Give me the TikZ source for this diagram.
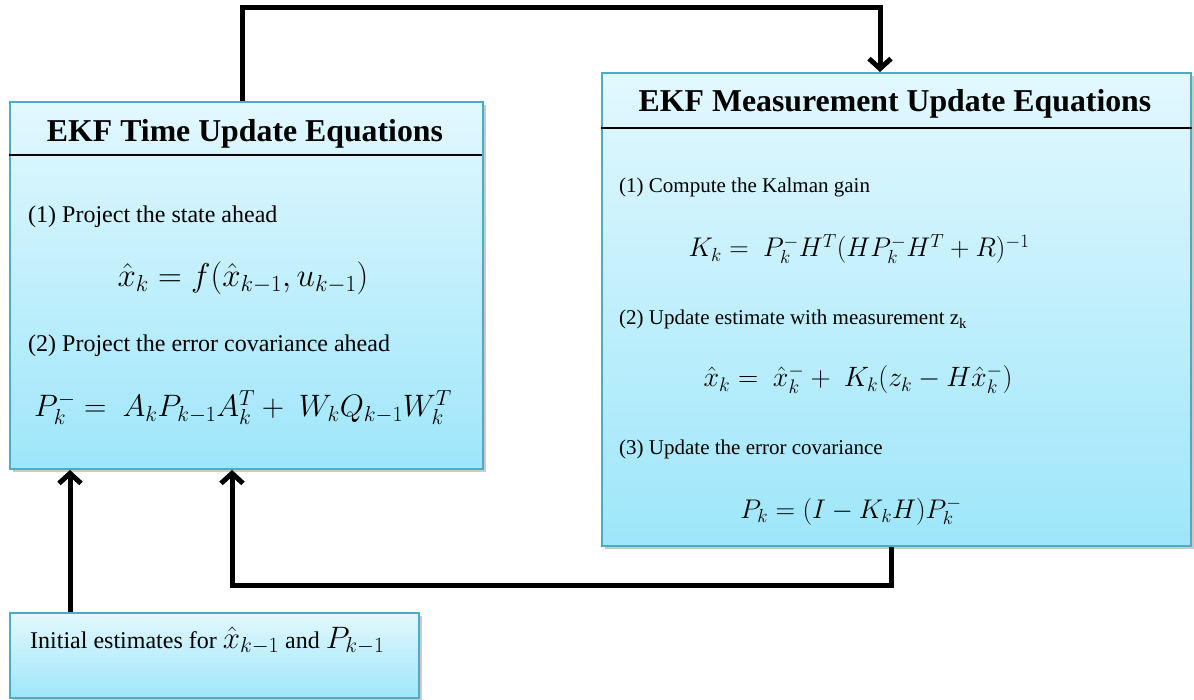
\RequirePackage{fix-cm}
\documentclass[tikz,border=0pt]{standalone}
\usepackage{fontspec}
\setmainfont{Liberation Serif}
\usetikzlibrary{arrows.meta,shadows}
\definecolor{boxtop}{HTML}{E2F8FE}
\definecolor{boxbot}{HTML}{9EE6FA}
\definecolor{boxline}{HTML}{4BACC6}
\tikzset{
  panel/.style={draw=boxline, line width=2pt, top color=boxtop, bottom color=boxbot,
    drop shadow={shadow xshift=3pt, shadow yshift=-3pt, opacity=0.35, fill=black!60},
    anchor=north west, inner sep=0pt},
  flow/.style={line width=5pt, -{Straight Barb[length=10pt,width=22pt]}},
  rule/.style={line width=2.5pt},
  ttl/.style={font=\fontsize{31.8}{36}\selectfont\bfseries, anchor=base, inner sep=0pt},
  bodyl/.style={font=\fontsize{24}{28}\selectfont, anchor=base west, inner sep=0pt},
  bodyr/.style={font=\fontsize{21}{25}\selectfont, anchor=base west, inner sep=0pt},
  eqn/.style={font=\fontsize{#1}{36}\selectfont, anchor=base, inner sep=0pt},
}
\begin{document}
\begin{tikzpicture}[x=1pt,y=1pt]
\useasboundingbox (0,0) rectangle (1194,-700);
% boxes
\node[panel, minimum width=473pt, minimum height=367pt] (tu) at (9,-101) {};
\node[panel, minimum width=589pt, minimum height=473pt] (mu) at (601,-72) {};
\node[panel, minimum width=409pt, minimum height=85pt] (init) at (9,-612) {};
% header rules
\draw[rule] ([yshift=-54pt]tu.north west) -- ([yshift=-54pt,xshift=-2pt]tu.north east);
\draw[rule] ([yshift=-56pt]mu.north west) -- ([yshift=-56pt]mu.north east);
% left box text
\node[ttl] (tut) at (245,-142) {EKF Time Update Equations};
\node[bodyl] (tu1) at (28,-223) {(1) Project the state ahead};
\node[eqn=33] (tue1) at (243,-287) {$\hat{x}_k = f(\hat{x}_{k-1}, u_{k-1})$};
\node[bodyl] (tu2) at (28,-352) {(2) Project the error covariance ahead};
\node[eqn=31] (tue2) at (243,-417) {$P_k^- =\ A_k P_{k-1} A_k^T +\ W_k Q_{k-1} W_k^T$};
% right box text
\node[ttl] (mut) at (895,-112) {EKF Measurement Update Equations};
\node[bodyr] (mu1) at (619,-193) {(1) Compute the Kalman gain};
\node[eqn=27] (mue1) at (859,-257) {$K_k =\ P_k^- H^T (H P_k^- H^T + R)^{-1}$};
\node[bodyr] (mu2) at (619,-325) {(2) Update estimate with measurement z\textsubscript{k}};
\node[eqn=28] (mue2) at (858,-387) {$\hat{x}_k =\ \hat{x}_k^- +\ K_k(z_k - H\hat{x}_k^-)$};
\node[bodyr] (mu3) at (619,-454) {(3) Update the error covariance};
\node[eqn=27] (mue3) at (851,-518) {$P_k = (I - K_k H)P_k^-$};
% initial box text
\node[bodyl] (it) at (30,-648) {Initial estimates for {\fontsize{31}{36}\selectfont$\hat{x}_{k-1}$} and {\fontsize{31}{36}\selectfont$P_{k-1}$}};
% connectors
\draw[flow] ([xshift=233pt]tu.north west) -- ++(0,93) -| ([xshift=279pt]mu.north west);
\draw[flow] ([xshift=290pt]mu.south west) -- ++(0,-38) -| ([xshift=223pt]tu.south west);
\draw[flow] ([xshift=61pt]init.north west) -- ([xshift=61pt]tu.south west);
\end{tikzpicture}
\end{document}
